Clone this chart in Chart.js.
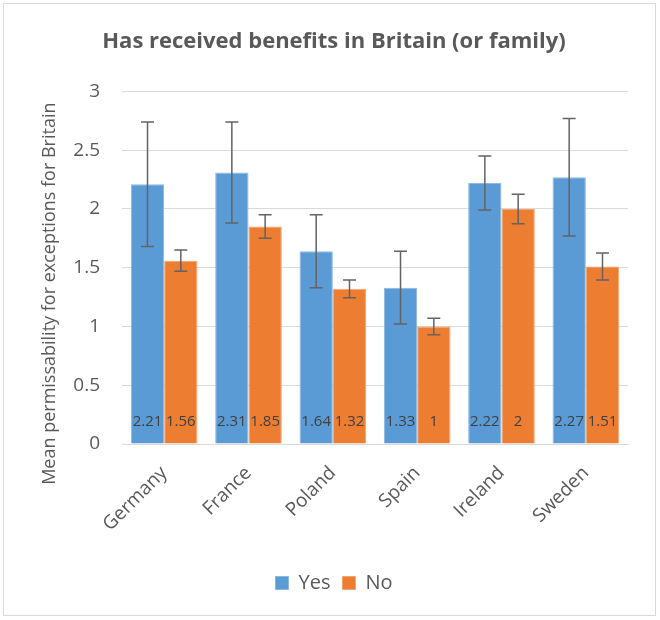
<!DOCTYPE html>
<html>
<head>
<meta charset="utf-8">
<script src="https://cdn.jsdelivr.net/npm/chart.js@4"></script>
<style>
    body { margin: 0; background: #fff; }
    #wrap { position: relative; width: 660px; height: 620px; }
    #frame { position: absolute; left: 3px; top: 3px; width: 653px; height: 613px; border: 1px solid #d9d9d9; box-sizing: border-box; pointer-events: none; }
</style>
</head>
<body>
<div id="wrap">
    <canvas id="chart" width="660" height="620"></canvas>
    <div id="frame"></div>
</div>
<script>
const countries = ['Germany', 'France', 'Poland', 'Spain', 'Ireland', 'Sweden'];
const yesMeans = [2.21, 2.31, 1.64, 1.33, 2.22, 2.27];
const noMeans = [1.56, 1.85, 1.32, 1, 2, 1.51];
const yesErr = [0.53, 0.43, 0.31, 0.31, 0.23, 0.50];
const noErr = [0.09, 0.10, 0.075, 0.07, 0.125, 0.115];
const yMin = 0, yMax = 3, yStep = 0.5;
const yTitle = 'Mean permissability for exceptions for Britain';

const FONT = "'Open Sans', 'Noto Sans', sans-serif";

// error bars + value labels at the foot of each bar
const barExtras = {
    id: 'barExtras',
    afterDatasetsDraw(chart) {
        const ctx = chart.ctx;
        const y = chart.scales.y;
        chart.data.datasets.forEach((ds, di) => {
            const meta = chart.getDatasetMeta(di);
            meta.data.forEach((bar, i) => {
                const v = ds.data[i];
                const e = ds.errors[i];
                const top = y.getPixelForValue(v + e);
                const bot = y.getPixelForValue(v - e);
                ctx.save();
                ctx.strokeStyle = '#636363';
                ctx.lineWidth = 1.5;
                ctx.beginPath();
                ctx.moveTo(bar.x, top); ctx.lineTo(bar.x, bot);
                ctx.moveTo(bar.x - 6.5, top); ctx.lineTo(bar.x + 6.5, top);
                ctx.moveTo(bar.x - 6.5, bot); ctx.lineTo(bar.x + 6.5, bot);
                ctx.stroke();
                ctx.fillStyle = '#404040';
                ctx.font = '15px ' + FONT;
                ctx.textAlign = 'center';
                ctx.textBaseline = 'middle';
                ctx.fillText(String(v), bar.x, y.getPixelForValue(0) - 22);
                ctx.restore();
            });
        });
    }
};

// y axis title, placed a little lower than the plot centre like the original
const yTitlePlugin = {
    id: 'yTitlePlugin',
    afterDraw(chart) {
        const ctx = chart.ctx;
        const area = chart.chartArea;
        ctx.save();
        ctx.translate(50, (area.top + area.bottom) / 2 + 26);
        ctx.rotate(-Math.PI / 2);
        ctx.fillStyle = '#595959';
        ctx.font = '18px ' + FONT;
        ctx.textAlign = 'center';
        ctx.textBaseline = 'middle';
        ctx.fillText(yTitle, 0, 0);
        ctx.restore();
    }
};

const data = {
    labels: countries,
    datasets: [{
        label: 'Yes',
        data: yesMeans,
        errors: yesErr,
        backgroundColor: '#5B9BD5',
        borderColor: '#8ab8e4',
        borderWidth: 1,
    }, {
        label: 'No',
        data: noMeans,
        errors: noErr,
        backgroundColor: '#ED7D31',
        borderColor: '#f3a370',
        borderWidth: 1,
    }]
};

const config = {
    type: 'bar',
    data: data,
    plugins: [barExtras, yTitlePlugin],
    options: {
        responsive: false,
        animation: false,
        layout: { padding: { left: 40, right: 32, top: 0, bottom: 17 } },
        datasets: { bar: { categoryPercentage: 0.79, barPercentage: 1 } },
        plugins: {
            title: {
                display: true,
                text: 'Has received benefits in Britain (or family)',
                color: '#595959',
                font: { family: FONT, size: 22, weight: 'bold' },
                padding: { top: 29, bottom: 36 }
            },
            legend: {
                position: 'bottom',
                labels: {
                    color: '#595959',
                    font: { family: FONT, size: 20 },
                    boxWidth: 13,
                    boxHeight: 13,
                    padding: 12
                }
            },
            tooltip: { enabled: false }
        },
        scales: {
            x: {
                grid: { display: false },
                border: { color: '#d9d9d9' },
                ticks: {
                    color: '#595959',
                    font: { family: FONT, size: 19 },
                    minRotation: 45,
                    maxRotation: 45,
                    padding: 10
                },
                afterFit(scale) { scale.height = 117; }
            },
            y: {
                min: yMin,
                max: yMax,
                grid: { color: '#d9d9d9', drawTicks: false },
                border: { display: false },
                ticks: {
                    stepSize: yStep,
                    color: '#595959',
                    font: { family: FONT, size: 19 },
                    padding: 22,
                    callback: value => String(value)
                },
                afterFit(scale) { scale.width = 82; }
            }
        }
    }
};

const chart = new Chart(document.getElementById('chart'), config);
</script>
</body>
</html>
